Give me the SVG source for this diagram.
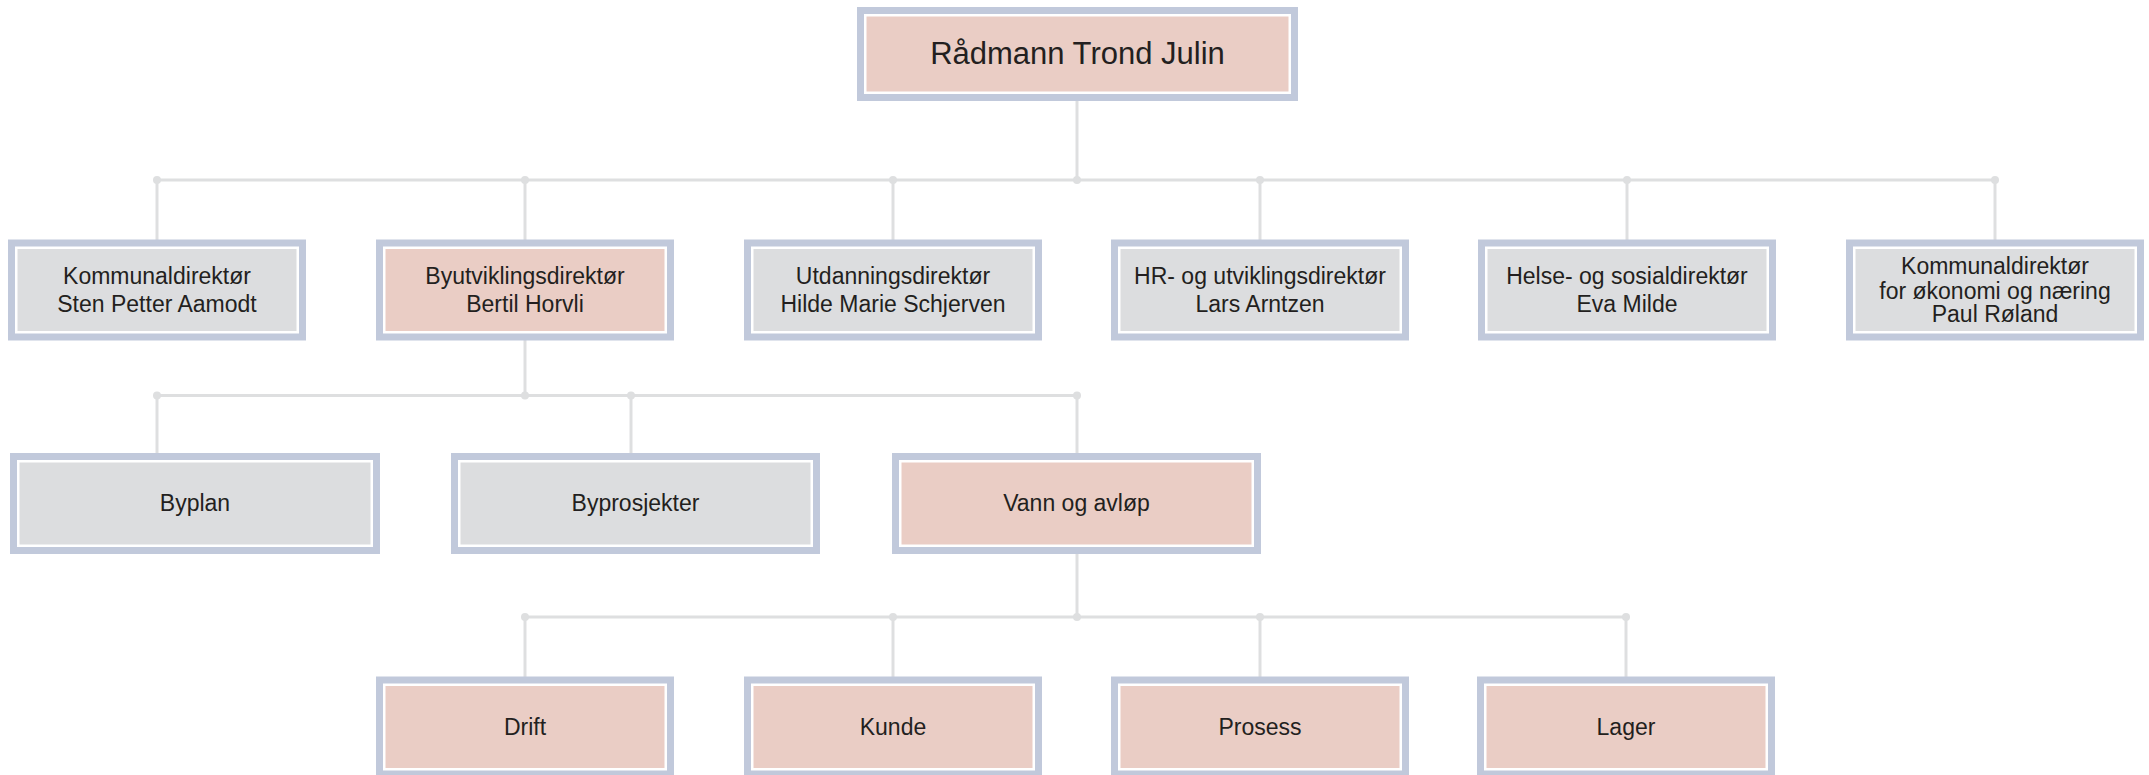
<svg xmlns="http://www.w3.org/2000/svg" width="2149" height="775" viewBox="0 0 2149 775">
<style>
.frame{fill:#c1c9db}
.pink{fill:#eacdc5;stroke:#ffffff;stroke-width:2.5}
.gray{fill:#dcdddf;stroke:#ffffff;stroke-width:2.5}
.lbl{font-family:"Liberation Sans",Arial,sans-serif;font-size:23px;fill:#231f20;text-anchor:middle}
.title{font-size:31px}
.conn line{stroke:#dedfe0;stroke-width:3;fill:none}
.conn circle{fill:#dedfe0}
</style>
<rect width="2149" height="775" fill="#ffffff"/>
<g id="connectors" class="conn">
<line x1="1077" y1="100" x2="1077" y2="180"/>
<line x1="157" y1="180" x2="1995" y2="180"/>
<line x1="157" y1="180" x2="157" y2="240"/>
<line x1="525" y1="180" x2="525" y2="240"/>
<line x1="893" y1="180" x2="893" y2="240"/>
<line x1="1260" y1="180" x2="1260" y2="240"/>
<line x1="1627" y1="180" x2="1627" y2="240"/>
<line x1="1995" y1="180" x2="1995" y2="240"/>
<circle cx="157" cy="180" r="4"/><circle cx="525" cy="180" r="4"/><circle cx="893" cy="180" r="4"/><circle cx="1077" cy="180" r="4"/><circle cx="1260" cy="180" r="4"/><circle cx="1627" cy="180" r="4"/><circle cx="1995" cy="180" r="4"/>
<line x1="525" y1="340" x2="525" y2="395.5"/>
<line x1="157" y1="395.5" x2="1077" y2="395.5"/>
<line x1="157" y1="395.5" x2="157" y2="454"/>
<line x1="631" y1="395.5" x2="631" y2="454"/>
<line x1="1077" y1="395.5" x2="1077" y2="454"/>
<circle cx="157" cy="395.5" r="4"/><circle cx="525" cy="395.5" r="4"/><circle cx="631" cy="395.5" r="4"/><circle cx="1077" cy="395.5" r="4"/>
<line x1="1077" y1="553" x2="1077" y2="617"/>
<line x1="525" y1="617" x2="1626" y2="617"/>
<line x1="525" y1="617" x2="525" y2="677"/>
<line x1="893" y1="617" x2="893" y2="677"/>
<line x1="1260" y1="617" x2="1260" y2="677"/>
<line x1="1626" y1="617" x2="1626" y2="677"/>
<circle cx="525" cy="617" r="4"/><circle cx="893" cy="617" r="4"/><circle cx="1077" cy="617" r="4"/><circle cx="1260" cy="617" r="4"/><circle cx="1626" cy="617" r="4"/>
</g>
<g id="radmann">
<rect class="frame" x="857" y="7" width="441" height="94"/>
<rect class="pink" x="865.25" y="15.25" width="424.5" height="77.5"/>
<text class="lbl title" x="1077.5" y="64">Rådmann Trond Julin</text>
</g>
<g id="kommunaldirektor">
<rect class="frame" x="8" y="239.5" width="298" height="101"/>
<rect class="gray" x="16.25" y="247.75" width="281.5" height="84.5"/>
<text class="lbl" x="157" y="283.5">Kommunaldirektør</text>
<text class="lbl" x="157" y="312">Sten Petter Aamodt</text>
</g>
<g id="byutvikling">
<rect class="frame" x="376" y="239.5" width="298" height="101"/>
<rect class="pink" x="384.25" y="247.75" width="281.5" height="84.5"/>
<text class="lbl" x="525" y="283.5">Byutviklingsdirektør</text>
<text class="lbl" x="525" y="312">Bertil Horvli</text>
</g>
<g id="utdanning">
<rect class="frame" x="744" y="239.5" width="298" height="101"/>
<rect class="gray" x="752.25" y="247.75" width="281.5" height="84.5"/>
<text class="lbl" x="893" y="283.5">Utdanningsdirektør</text>
<text class="lbl" x="893" y="312">Hilde Marie Schjerven</text>
</g>
<g id="hr">
<rect class="frame" x="1111" y="239.5" width="298" height="101"/>
<rect class="gray" x="1119.25" y="247.75" width="281.5" height="84.5"/>
<text class="lbl" x="1260" y="283.5">HR- og utviklingsdirektør</text>
<text class="lbl" x="1260" y="312">Lars Arntzen</text>
</g>
<g id="helse">
<rect class="frame" x="1478" y="239.5" width="298" height="101"/>
<rect class="gray" x="1486.25" y="247.75" width="281.5" height="84.5"/>
<text class="lbl" x="1627" y="283.5">Helse- og sosialdirektør</text>
<text class="lbl" x="1627" y="312">Eva Milde</text>
</g>
<g id="okonomi">
<rect class="frame" x="1846" y="239.5" width="298" height="101"/>
<rect class="gray" x="1854.25" y="247.75" width="281.5" height="84.5"/>
<text class="lbl" x="1995" y="274">Kommunaldirektør</text>
<text class="lbl" x="1995" y="298.5">for økonomi og næring</text>
<text class="lbl" x="1995" y="322">Paul Røland</text>
</g>
<g id="byplan">
<rect class="frame" x="10" y="453" width="370" height="101"/>
<rect class="gray" x="18.25" y="461.25" width="353.5" height="84.5"/>
<text class="lbl" x="195" y="511">Byplan</text>
</g>
<g id="byprosjekter">
<rect class="frame" x="451" y="453" width="369" height="101"/>
<rect class="gray" x="459.25" y="461.25" width="352.5" height="84.5"/>
<text class="lbl" x="635.5" y="511">Byprosjekter</text>
</g>
<g id="vann">
<rect class="frame" x="892" y="453" width="369" height="101"/>
<rect class="pink" x="900.25" y="461.25" width="352.5" height="84.5"/>
<text class="lbl" x="1076.5" y="511">Vann og avløp</text>
</g>
<g id="drift">
<rect class="frame" x="376" y="676.5" width="298" height="101"/>
<rect class="pink" x="384.25" y="684.75" width="281.5" height="84.5"/>
<text class="lbl" x="525" y="735">Drift</text>
</g>
<g id="kunde">
<rect class="frame" x="744" y="676.5" width="298" height="101"/>
<rect class="pink" x="752.25" y="684.75" width="281.5" height="84.5"/>
<text class="lbl" x="893" y="735">Kunde</text>
</g>
<g id="prosess">
<rect class="frame" x="1111" y="676.5" width="298" height="101"/>
<rect class="pink" x="1119.25" y="684.75" width="281.5" height="84.5"/>
<text class="lbl" x="1260" y="735">Prosess</text>
</g>
<g id="lager">
<rect class="frame" x="1477" y="676.5" width="298" height="101"/>
<rect class="pink" x="1485.25" y="684.75" width="281.5" height="84.5"/>
<text class="lbl" x="1626" y="735">Lager</text>
</g>
</svg>
